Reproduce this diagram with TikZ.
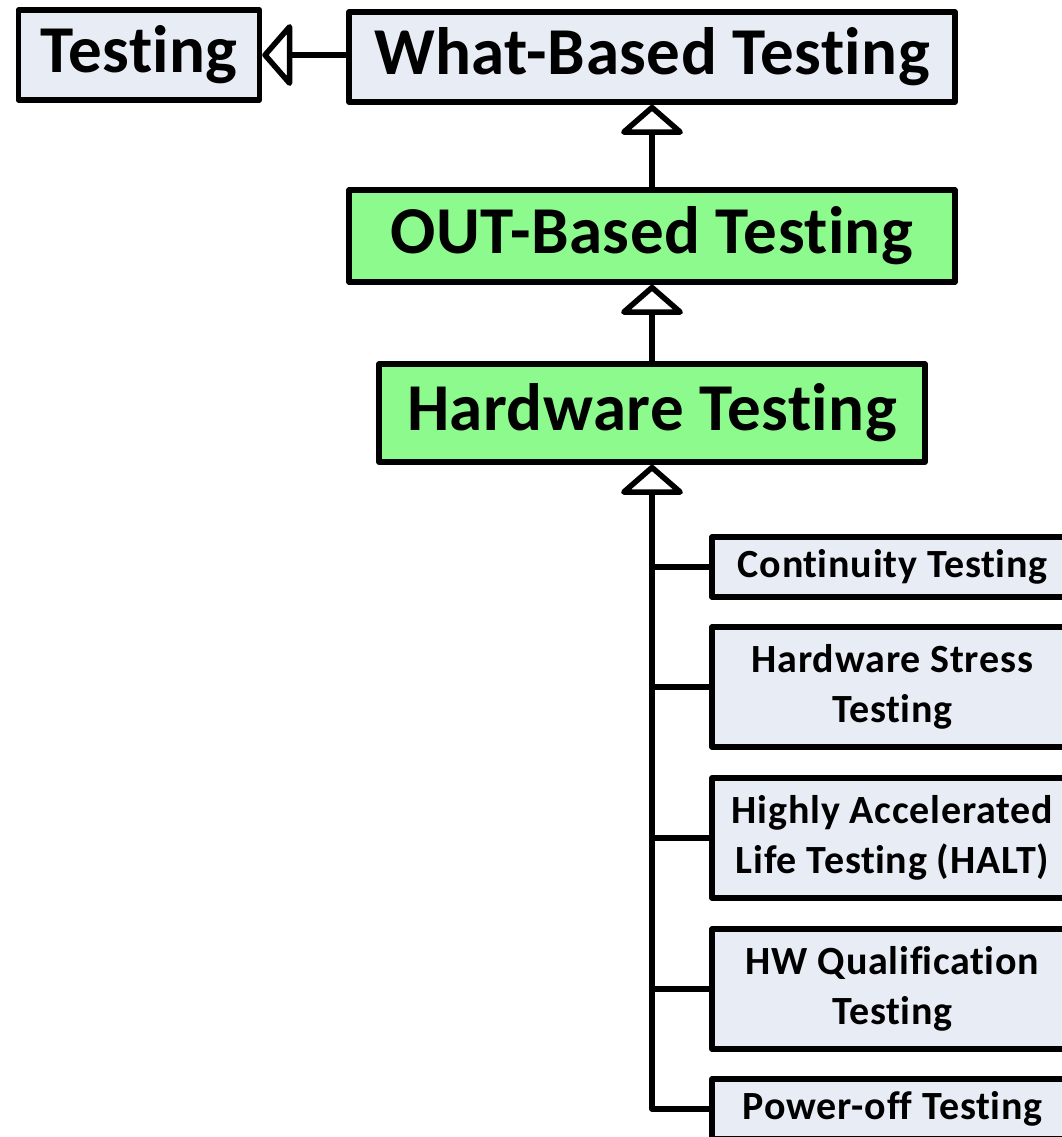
\documentclass[tikz,border=0pt]{standalone}
\usepackage{fontspec}
\setmainfont{Carlito}[RawFeature={-liga;-clig;-dlig;-calt;-rlig}]
\newfontfamily\bigfont{Carlito}[RawFeature={-liga;-clig;-dlig;-calt;-rlig}, LetterSpace=0.8]
\newfontfamily\smallfont{Carlito}[RawFeature={-liga;-clig;-dlig;-calt;-rlig}, LetterSpace=2]
\newcommand{\tii}{t\kern0pt i}
\newcommand{\fii}{f\kern0pt i}
\newcommand{\fff}{f\kern0pt f}
\usetikzlibrary{arrows.meta}
\definecolor{boxgray}{RGB}{232,236,244}
\definecolor{boxgreen}{RGB}{140,250,140}
\tikzset{
  box/.style={draw=black, line width=5.5pt, line join=round, inner sep=0pt, fill=boxgray, align=center},
  bigtext/.style={font=\bigfont\fontsize{67}{80}\selectfont\bfseries},
  smalltext/.style={font=\smallfont\fontsize{40}{50}\selectfont\bfseries},
  greenbox/.style={fill=boxgreen},
  conn/.style={draw=black, line width=5.5pt, line join=round},
  inh/.style={conn, -{Triangle[length=31pt, width=70pt, fill=white, line join=round]}},
}
\begin{document}
\begin{tikzpicture}[x=1pt, y=-1pt]
\useasboundingbox (0,0) rectangle (1062,1137);
\clip (0,0) rectangle (1062,1137);
% top row
\node[box, bigtext, minimum width=241pt, minimum height=90pt] (testing) at (139,55) {Tes\tii ng};
\node[box, bigtext, minimum width=606pt, minimum height=90pt] (what) at (652,57) {What-Based Tes\tii ng};
\node[box, bigtext, greenbox, minimum width=606pt, minimum height=92pt] (out) at (652,236) {OUT-Based Tes\tii ng};
\node[box, bigtext, greenbox, minimum width=546pt, minimum height=98pt] (hw) at (652,413) {Hardware Tes\tii ng};
% children
\node[box, smalltext, minimum width=361pt, minimum height=60pt] (cont) at (892.5,567) {Con\tii nuity Tes\tii ng};
\node[box, smalltext, minimum width=361pt, minimum height=120pt] (stress) at (892.5,687) {Hardware Stress\\Tes\tii ng};
\node[box, smalltext, minimum width=361pt, minimum height=120pt] (halt) at (892.5,838) {Highly Accelerated\\Life Tes\tii ng (HALT)};
\node[box, smalltext, minimum width=361pt, minimum height=120pt] (qual) at (892.5,989) {HW Quali\fii ca\tii on\\Tes\tii ng};
\node[box, smalltext, minimum width=361pt, minimum height=60pt] (power) at (892.5,1109) {Power-o\fff\ Tes\tii ng};
% connectors
\draw[inh] (testing.east -| what.west) -- (testing.east);
\draw[inh] (out.north) -- (what.south);
\draw[inh] (hw.north) -- (out.south);
\draw[inh] (power.west) -| (hw.south);
\draw[conn] (cont.west) -- (cont.west -| hw.south);
\draw[conn] (stress.west) -- (stress.west -| hw.south);
\draw[conn] (halt.west) -- (halt.west -| hw.south);
\draw[conn] (qual.west) -- (qual.west -| hw.south);
\end{tikzpicture}
\end{document}
